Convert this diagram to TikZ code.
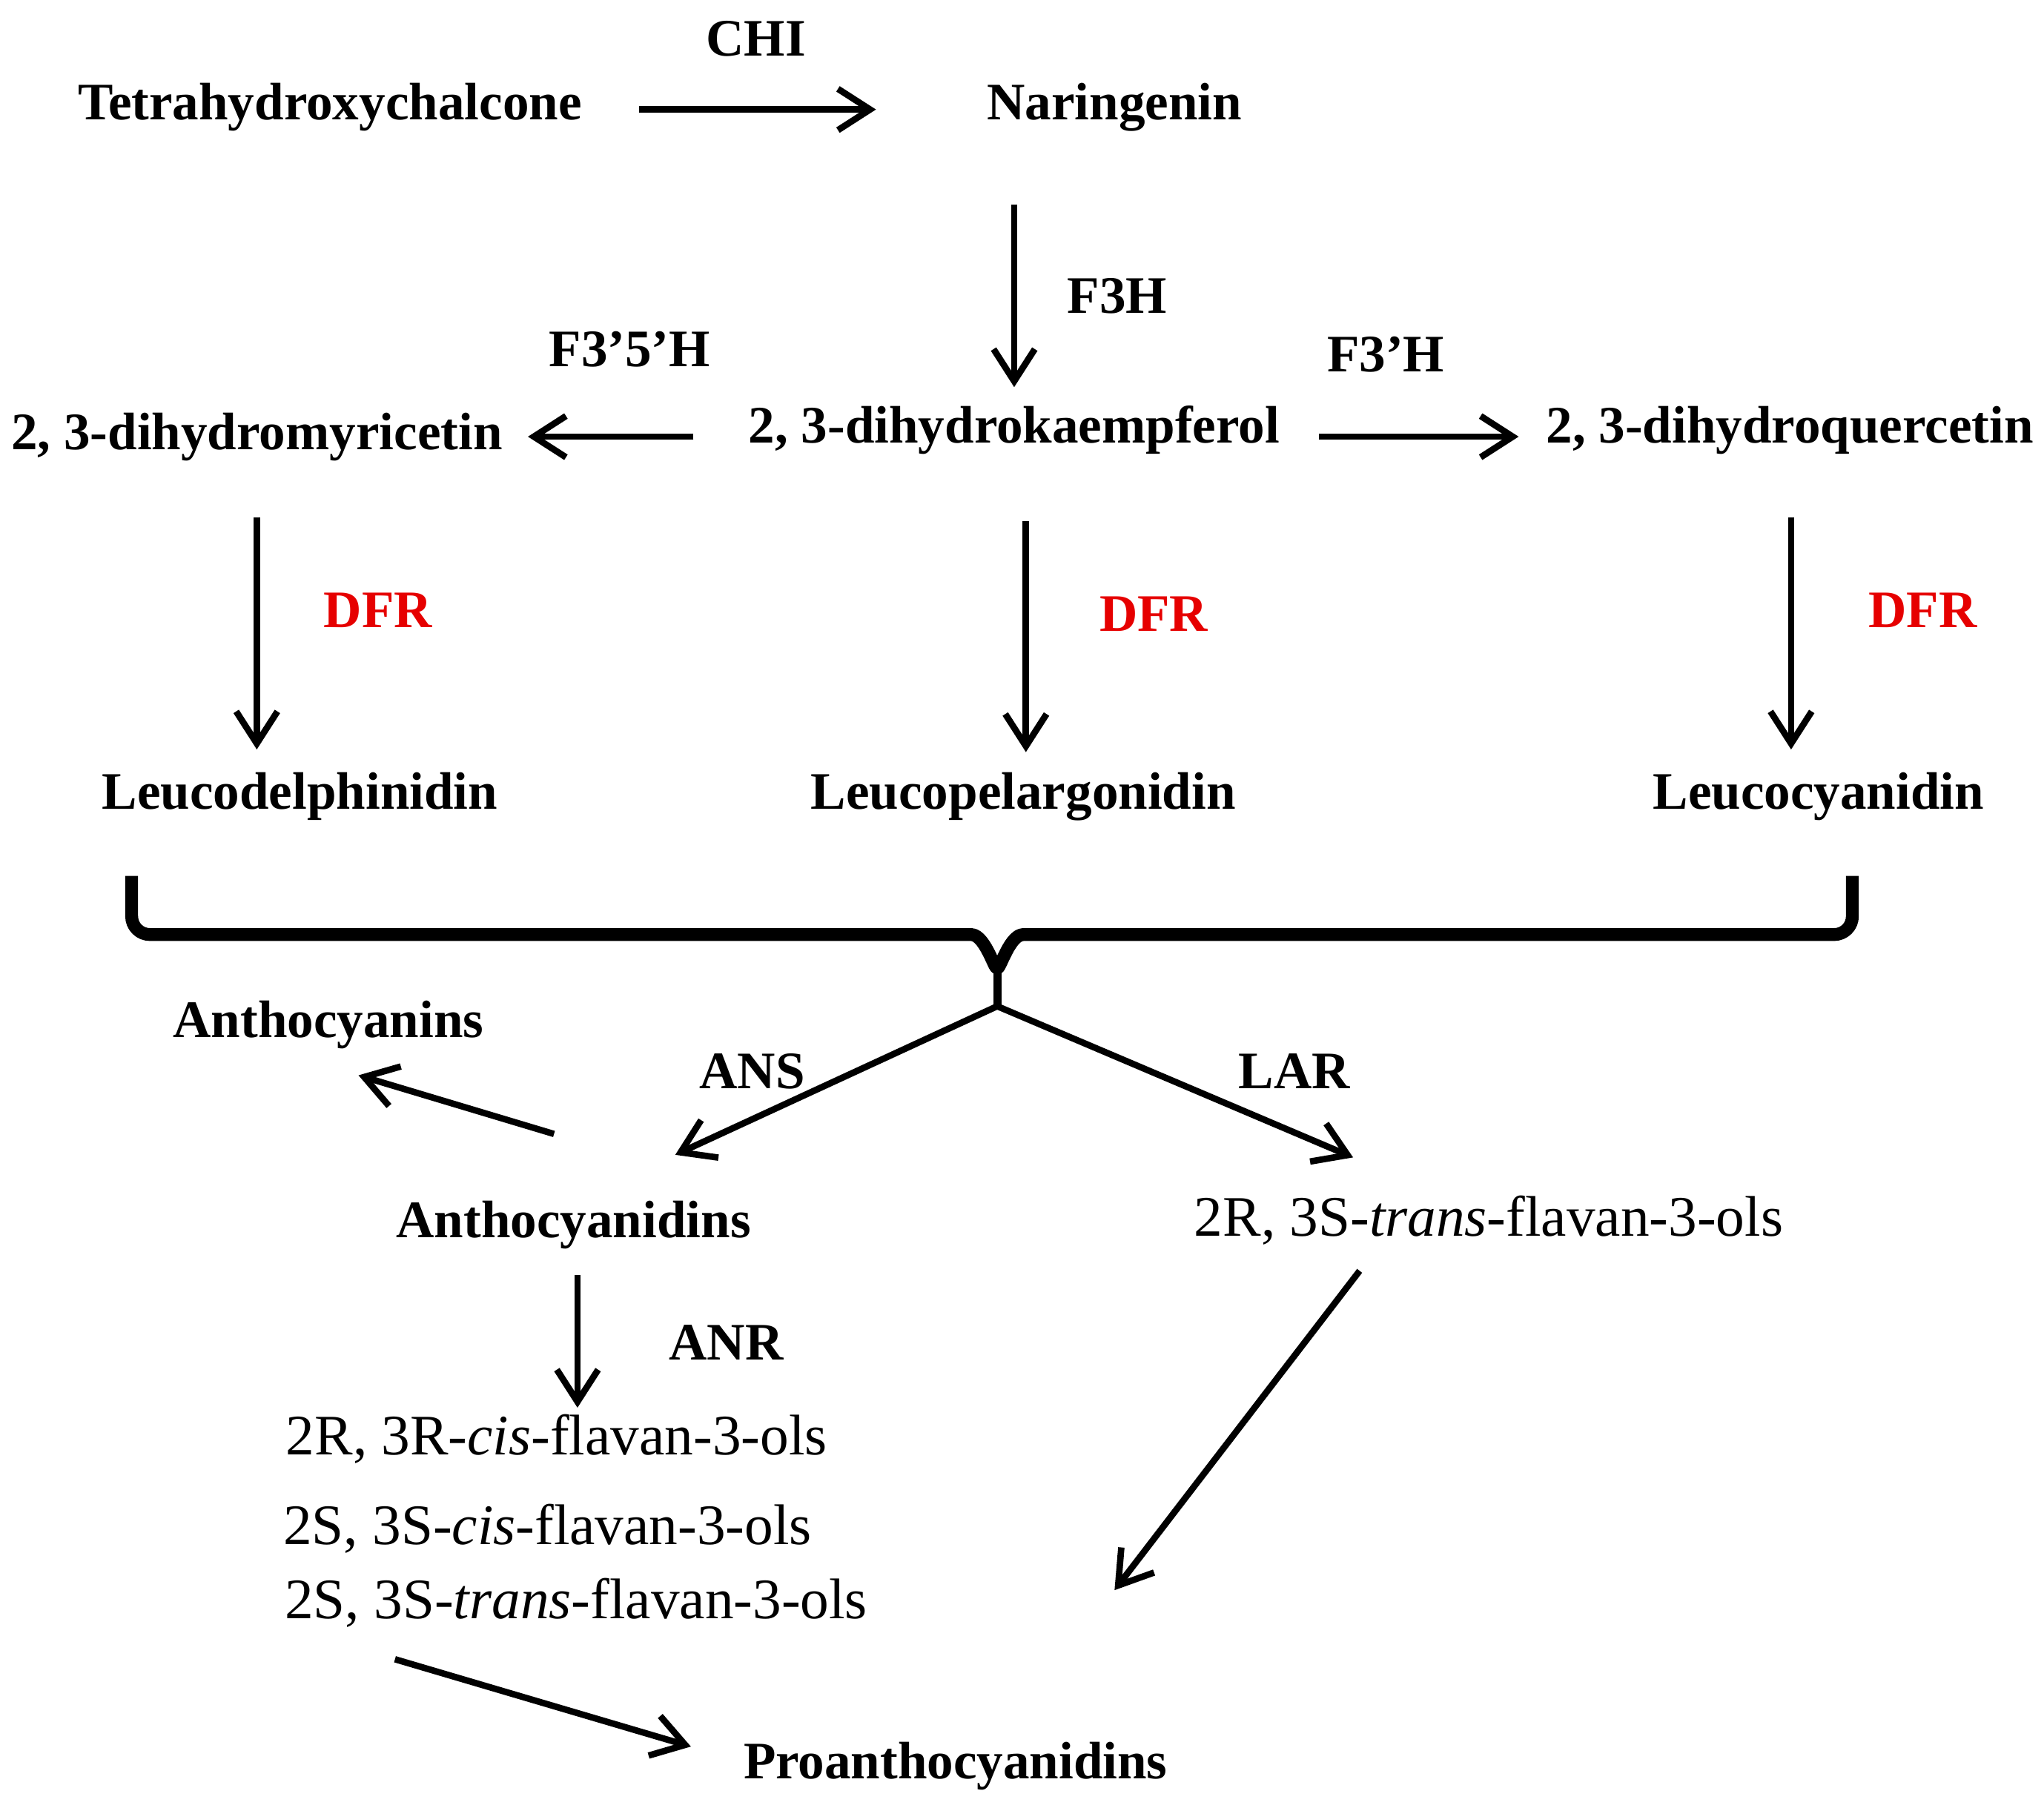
\documentclass[tikz,border=0pt]{standalone}
\usepackage{fontspec}
\setmainfont{Liberation Serif}
\usetikzlibrary{arrows.meta}
\begin{document}
\begin{tikzpicture}[x=0.01cm,y=-0.01cm,
 t/.style={font=\fontsize{11.5}{14}\selectfont\bfseries,inner sep=1pt},
 r/.style={font=\fontsize{12.5}{15}\selectfont,inner sep=1pt},
 red/.style={t,text={rgb,255:red,230;green,0;blue,0}},
 a/.style={-{Straight Barb[length=7pt,width=9pt]},line width=1.4pt},
 ]
\useasboundingbox (0,0) rectangle (1568,1387);
\node[t] (thc) at (253,82) {Tetrahydroxychalcone};
\node[t] (nar) at (855,82) {Naringenin};
\node[t] (chi) at (580,30) {CHI};
\node[t] (dhk) at (778,330) {2, 3-dihydrokaempferol};
\node[t] (dhm) at (197,335) {2, 3-dihydromyricetin};
\node[t] (dhq) at (1373,330) {2, 3-dihydroquercetin};
\node[t] (f3h) at (857,227) {F3H};
\node[t] (f35h) at (483,268) {F3'5'H};
\node[t] (f3ph) at (1063,272) {F3'H};
\node[red] (d1) at (290,468) {DFR};
\node[red] (d2) at (885,471) {DFR};
\node[red] (d3) at (1475,468) {DFR};
\node[t] (ld) at (230,611) {Leucodelphinidin};
\node[t] (lp) at (785,611) {Leucopelargonidin};
\node[t] (lc) at (1395,611) {Leucocyanidin};
\node[t] (ans) at (577,822) {ANS};
\node[t] (lar) at (993,822) {LAR};
\node[t] (anth) at (252,786) {Anthocyanins};
\node[t] (acd) at (440,940) {Anthocyanidins};
\node[r] (tr) at (1142,936) {2R, 3S-\textit{trans}-flavan-3-ols};
\node[t] (anr) at (557,1030) {ANR};
\node[r] (c1) at (427,1104) {2R, 3R-\textit{cis}-flavan-3-ols};
\node[r] (c2) at (420,1173) {2S, 3S-\textit{cis}-flavan-3-ols};
\node[r] (c3) at (442,1230) {2S, 3S-\textit{trans}-flavan-3-ols};
\node[t] (pro) at (733,1355) {Proanthocyanidins};
\coordinate (j) at (765,772);
\coordinate (ja) at (518,886);
\coordinate (jb) at (1038,888);
\draw[a] (490,84) -- (672,84);
\draw[a] (778,157) -- (778,297);
\draw[a] (532,335) -- (405,335);
\draw[a] (1012,335) -- (1165,335);
\draw[a] (197,397) -- (197,575);
\draw[a] (787,400) -- (787,577);
\draw[a] (1374,397) -- (1374,575);
\draw[line width=2.8pt,line join=round] (101,672) -- (101,703) to[out=-90,in=180] (115,717) -- (745,717) to[out=0,in=-90] (765,740) to[out=-90,in=180] (785,717) -- (1407,717) to[out=0,in=-90] (1421,703) -- (1421,672);
\draw[line width=1.8pt] (765,735) -- (j);
\draw[a] (j) -- (ja);
\draw[a] (j) -- (jb);
\draw[a] (425,870) -- (275,825);
\draw[a] (443,978) -- (443,1080);
\draw[a] (1043,975) -- (855,1220);
\draw[a] (303,1273) -- (530,1340);
\end{tikzpicture}
\end{document}
